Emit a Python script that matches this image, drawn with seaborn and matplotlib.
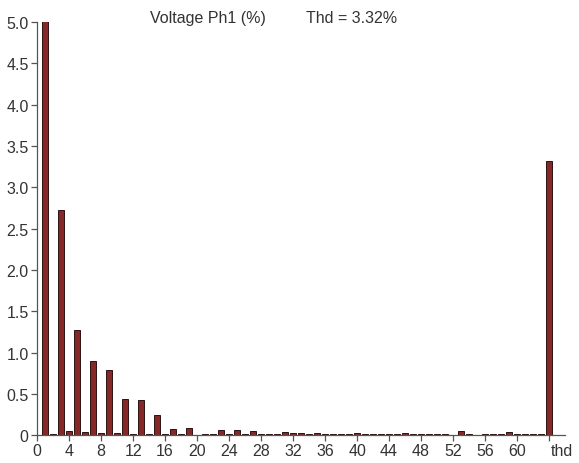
import matplotlib
matplotlib.use("Agg")
import matplotlib.pyplot as plt
import matplotlib.transforms as mtransforms
import seaborn as sns
import pandas as pd

# Harmonic orders 1..63, then the total (thd) bar at position 64
harmonics = list(range(1, 64))
values = [
    100.0, 0.02, 2.73, 0.045, 1.27, 0.035, 0.90, 0.03, 0.79, 0.03,   # 1-10
    0.44, 0.02, 0.43, 0.01, 0.24, 0.02, 0.08, 0.02, 0.09, 0.005,     # 11-20
    0.015, 0.015, 0.065, 0.01, 0.065, 0.015, 0.045, 0.02, 0.02, 0.015,  # 21-30
    0.04, 0.03, 0.03, 0.02, 0.03, 0.01, 0.015, 0.015, 0.015, 0.025,  # 31-40
    0.015, 0.015, 0.015, 0.015, 0.02, 0.025, 0.015, 0.015, 0.02, 0.02,  # 41-50
    0.01, 0.005, 0.045, 0.015, 0.005, 0.015, 0.015, 0.02, 0.04, 0.02,  # 51-60
    0.015, 0.02, 0.02,                                               # 61-63
]
thd_position = 64
thd_value = 3.32

x_ticks = list(range(0, 61, 4)) + [thd_position]
x_tick_labels = [str(t) for t in range(0, 61, 4)] + ["thd"]
y_ticks = [0, 0.5, 1.0, 1.5, 2.0, 2.5, 3.0, 3.5, 4.0, 4.5, 5.0]
y_tick_labels = ["0"] + [f"{v:.1f}" for v in y_ticks[1:]]

df = pd.DataFrame({
    "order": harmonics + [thd_position],
    "pct": values + [thd_value],
})

sns.set_style("ticks")
plt.rcParams["font.family"] = ["Liberation Sans", "DejaVu Sans"]

fig = plt.figure(figsize=(5.79, 4.64), dpi=100)
ax = fig.add_axes([0.064, 0.060, 0.912, 0.890])

sns.barplot(data=df, x="order", y="pct", native_scale=True, width=0.68,
            color="#872828", saturation=1, edgecolor="#2b1212",
            linewidth=0.7, ax=ax)

ax.set_xlim(0, 66)
ax.set_ylim(0, 5.0)
ax.set_xticks(x_ticks)
ax.set_xticklabels(x_tick_labels)
ax.set_yticks(y_ticks)
ax.set_yticklabels(y_tick_labels)
ax.set_xlabel("")
ax.set_ylabel("")

for side in ("top", "right"):
    ax.spines[side].set_visible(False)
for side in ("left", "bottom"):
    ax.spines[side].set_color("#555555")
    ax.spines[side].set_linewidth(0.9)
ax.tick_params(axis="both", direction="out", length=4, width=0.9,
               color="#555555", labelsize=11.5, labelcolor="#333333", pad=2)

# the "thd" label sits just to the right of its tick
thd_label = ax.get_xticklabels()[-1]
thd_label.set_horizontalalignment("left")
thd_label.set_transform(thd_label.get_transform() +
                        mtransforms.ScaledTranslation(2 / 100, 0, fig.dpi_scale_trans))

fig.text(0.259, 0.961, "Voltage Ph1 (%)", fontsize=11.5, color="#333333",
         ha="left", va="center")
fig.text(0.529, 0.961, "Thd = 3.32%", fontsize=11.5, color="#333333",
         ha="left", va="center")

fig.savefig("out.png", dpi=100, facecolor="white")
